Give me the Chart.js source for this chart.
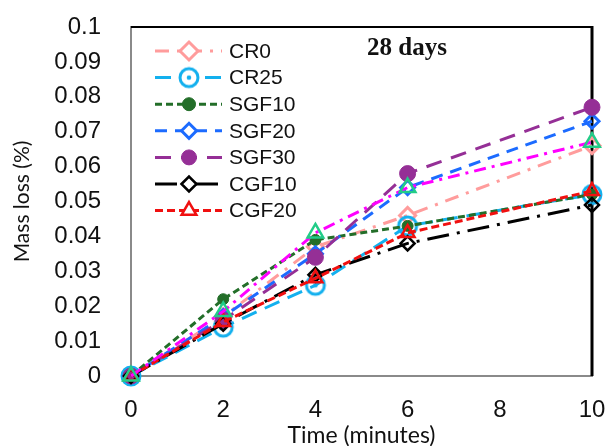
<!DOCTYPE html>
<html><head><meta charset="utf-8">
<script src="https://cdn.jsdelivr.net/npm/chart.js@4/dist/chart.umd.min.js"></script>
<style>html,body{margin:0;padding:0;background:#fff}#wrap{width:607px;height:446px;position:relative}</style>
</head><body><div id="wrap"><canvas id="c"></canvas></div>
<script>
// ---- data ----
const times = [0, 2, 4, 6, 10];
const xTickValues = [0, 2, 4, 6, 8, 10];
const yTickLabels = ['0','0.01','0.02','0.03','0.04','0.05','0.06','0.07','0.08','0.09','0.1'];
const seriesNames = ['CR0','CR25','SGF10','SGF20','SGF30','CGF10','CGF20',''];
const CR0   = [0, 0.017, 0.037, 0.046, 0.066];
const CR25  = [0, 0.014, 0.026, 0.043, 0.052];
const SGF10 = [0, 0.022, 0.039, 0.043, 0.052];
const SGF20 = [0, 0.017, 0.035, 0.054, 0.073];
const SGF30 = [0, 0.016, 0.034, 0.058, 0.077];
const CGF10 = [0, 0.015, 0.029, 0.038, 0.049];
const CGF20 = [0, 0.0155, 0.028, 0.041, 0.053];
const UNLABELED = [0, 0.0185, 0.041, 0.054, 0.067];
const chartTitle = '28 days';

// ---- styling ----
const ring = (() => {
  const c = document.createElement('canvas'); c.width = 24; c.height = 24;
  const g = c.getContext('2d');
  g.strokeStyle = '#13B0EE'; g.lineWidth = 3;
  g.beginPath(); g.arc(12, 12, 9, 0, Math.PI * 2); g.stroke();
  g.fillStyle = '#13B0EE'; g.beginPath(); g.arc(12, 12, 2.3, 0, Math.PI * 2); g.fill();
  return c;
})();

function mk(i, data, color, dash, pStyle, radius, fill, mColor, bw, order, legendRadius) {
  return {
    label: seriesNames[i],
    data: times.map((t, k) => ({x: t, y: data[k]})),
    borderColor: color,
    borderWidth: 3,
    borderDash: dash,
    pointStyle: pStyle,
    pointRadius: radius,
    pointHoverRadius: radius,
    pointBackgroundColor: fill,
    pointBorderColor: mColor,
    pointBorderWidth: bw,
    fill: false,
    tension: 0,
    clip: false,
    order: order,
    legendRadius: legendRadius
  };
}

const datasets = [
  mk(0, CR0,   '#FF9C9C', [14, 8, 3, 8], 'rectRot', 8, 'rgba(0,0,0,0)', '#FF9C9C', 3, 8, 9),
  mk(1, CR25,  '#13B0EE', [16, 9],       ring,      10, 'rgba(0,0,0,0)', '#13B0EE', 3, 7, 9),
  mk(2, SGF10, '#236E29', [7, 4],        'circle',  5.5, '#236E29', '#236E29', 1, 6, 6.5),
  mk(3, SGF20, '#1C6BFF', [12, 8],       'rectRot', 7, 'rgba(0,0,0,0)', '#1C6BFF', 3, 5, 7.5),
  mk(4, SGF30, '#952F96', [16, 10],      'circle',  8, '#952F96', '#952F96', 1, 4, 7.5),
  mk(5, CGF10, '#000000', [22, 8, 3, 8], 'rectRot', 7, 'rgba(0,0,0,0)', '#000000', 2.5, 3, 7.5),
  mk(6, CGF20, '#F01010', [8, 4],        'triangle', 8, 'rgba(0,0,0,0)', '#F01010', 2.5, 2, 8.5),
  mk(7, UNLABELED, '#FF00FF', [12, 6, 3, 6], 'triangle', 9, 'rgba(0,0,0,0)', '#22CC88', 2.5, 1, 9)
];

const framePlugin = {
  id: 'frame',
  beforeDatasetsDraw(chart) {
    const {ctx, chartArea: a} = chart;
    ctx.save();
    ctx.strokeStyle = '#000';
    ctx.lineWidth = 2;
    ctx.beginPath(); ctx.moveTo(a.left, a.top); ctx.lineTo(a.right, a.top); ctx.stroke();
    ctx.lineWidth = 3;
    ctx.beginPath(); ctx.moveTo(a.right, a.top - 1); ctx.lineTo(a.right, a.bottom); ctx.stroke();
    ctx.restore();
  },
  afterDraw(chart) {
    const {ctx, chartArea: a} = chart;
    ctx.save();
    ctx.font = 'bold 25px "Liberation Serif", "Times New Roman", serif';
    ctx.fillStyle = '#111';
    ctx.textBaseline = 'middle';
    ctx.textAlign = 'left';
    ctx.fillText(chartTitle, a.left + 236, a.top + 22);
    const x0 = a.left + 24, x1 = a.left + 91, mx = a.left + 58, tx = a.left + 98;
    let y = a.top + 24;
    const step = 26.6;
    ctx.font = '21px "Liberation Sans", Arial, sans-serif';
    chart.data.datasets.forEach(d => {
      if (!d.label) return;
      ctx.save();
      ctx.strokeStyle = d.borderColor;
      ctx.lineWidth = 3;
      ctx.setLineDash(d.borderDash);
      ctx.beginPath(); ctx.moveTo(x0, y); ctx.lineTo(x1, y); ctx.stroke();
      ctx.setLineDash([]);
      ctx.strokeStyle = d.pointBorderColor;
      ctx.lineWidth = d.pointBorderWidth;
      if (typeof d.pointStyle !== 'string') {
        ctx.fillStyle = '#fff';
        ctx.beginPath(); ctx.arc(mx, y, 9, 0, Math.PI*2); ctx.fill();
      } else {
        ctx.fillStyle = d.pointBackgroundColor === 'rgba(0,0,0,0)' ? '#fff' : d.pointBackgroundColor;
      }
      Chart.helpers.drawPoint(ctx, {pointStyle: d.pointStyle, radius: d.legendRadius, rotation: 0, borderWidth: d.pointBorderWidth}, mx, y);
      ctx.restore();
      ctx.fillStyle = '#111';
      ctx.textBaseline = 'middle';
      ctx.fillText(d.label, tx, y + 1);
      y += step;
    });
    ctx.restore();
  }
};

new Chart(document.getElementById('c'), {
  type: 'line',
  data: {datasets},
  plugins: [framePlugin],
  options: {
    responsive: true,
    maintainAspectRatio: false,
    animation: false,
    events: [],
    layout: {padding: {top: 27, right: 15, bottom: 0, left: 0}},
    plugins: {legend: {display: false}, tooltip: {enabled: false}, title: {display: false}},
    scales: {
      x: {
        type: 'linear', min: 0, max: 10,
        afterBuildTicks: s => { s.ticks = xTickValues.map(v => ({value: v})); },
        afterFit: s => { s.height = 70; s.paddingLeft = 0; s.paddingRight = 0; },
        grid: {display: false, drawTicks: false},
        border: {display: true, color: '#8a8a8a', width: 2},
        ticks: {padding: 20, color: '#111', font: {family: '"Liberation Sans", Arial, sans-serif', size: 24}, maxRotation: 0},
        title: {display: true, text: 'Time (minutes)', color: '#111', padding: {top: 0, bottom: -2},
          font: {family: 'Lato, "Open Sans", sans-serif', size: 23, lineHeight: 1.1}}
      },
      y: {
        type: 'linear', min: 0, max: 0.1,
        afterBuildTicks: s => { s.ticks = yTickLabels.map((t, i) => ({value: i * 0.01})); },
        afterFit: s => { s.width = 131; s.paddingTop = 0; s.paddingBottom = 0; },
        grid: {display: false, drawTicks: false},
        border: {display: true, color: '#8a8a8a', width: 2},
        ticks: {padding: 30, color: '#111', font: {family: '"Liberation Sans", Arial, sans-serif', size: 24},
          callback: (v, i) => yTickLabels[i]},
        title: {display: true, text: 'Mass loss (%)', color: '#111', padding: {top: 10, bottom: 0},
          font: {family: 'Lato, "Open Sans", sans-serif', size: 21}}
      }
    }
  }
});
</script></body></html>
